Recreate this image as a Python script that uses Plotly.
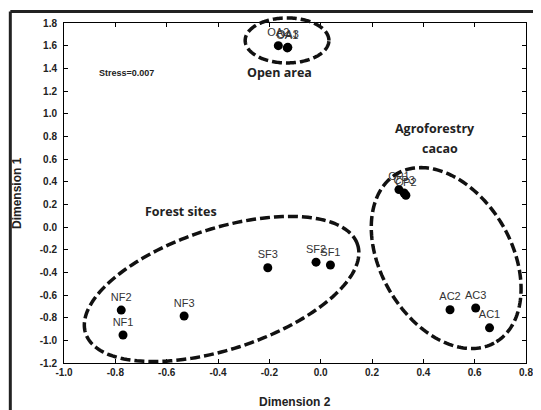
import numpy as np
import plotly.graph_objects as go

# ---- data ----
site_labels = ["NF1", "NF2", "NF3", "SF1", "SF2", "SF3",
               "AC1", "AC2", "AC3", "CP1", "CP3", "CP2",
               "OA2", "OA1", "OA3"]
dim2 = [-0.77, -0.777, -0.532, 0.038, -0.018, -0.206,
        0.658, 0.504, 0.604, 0.305, 0.325, 0.332,
        -0.165, -0.13, -0.128]
dim1 = [-0.953, -0.733, -0.785, -0.335, -0.31, -0.36,
        -0.89, -0.73, -0.715, 0.33, 0.30, 0.28,
        1.60, 1.58, 1.585]
xticks = [-1.0, -0.8, -0.6, -0.4, -0.2, 0.0, 0.2, 0.4, 0.6, 0.8]
yticks = [-1.2, -1.0, -0.8, -0.6, -0.4, -0.2, 0.0, 0.2, 0.4, 0.6,
          0.8, 1.0, 1.2, 1.4, 1.6, 1.8]
group_names = ["Forest sites", "Agroforestry", "cacao", "Open area"]
stress_text = "Stress=0.007"

XR = [-1.0, 0.8]
YR = [-1.2, 1.8]
# page body has an 8px margin: figure placed at (8, 8)
OFF = 8
W, H = 541 - OFF, 410 - OFF
ML, MR, MT, MB = 64 - OFF, 8, 23 - OFF, 47
PW, PH = W - ML - MR, H - MT - MB

def ellipse_path(cx, cy, a, b, ang):
    cxp = (cx - XR[0]) / (XR[1] - XR[0])
    cyp = (cy - YR[0]) / (YR[1] - YR[0])
    t = np.linspace(0, 2 * np.pi, 200)
    p = np.deg2rad(ang)
    X = cxp + (a * np.cos(p) * np.cos(t) - b * np.sin(p) * np.sin(t)) / PW
    Y = cyp + (a * np.sin(p) * np.cos(t) + b * np.cos(p) * np.sin(t)) / PH
    s = "M %.5f,%.5f " % (X[0], Y[0])
    s += " ".join("L %.5f,%.5f" % (x, y) for x, y in zip(X[1:], Y[1:]))
    return s + " Z"

fig = go.Figure()
fig.add_trace(go.Scatter(
    x=dim2, y=dim1, mode="markers+text", text=site_labels,
    textposition="top center",
    textfont=dict(family="Liberation Sans, Arial", size=11, color="#333333"),
    marker=dict(size=9, color="black"),
    cliponaxis=False, showlegend=False))

dash = dict(color="#111111", width=3.5, dash="10px,4px")
fx = (9.5 - 64) / PW          # outer frame left edge (paper)
fy = 1 + (23 - 11.5) / PH     # outer frame top edge (paper)
shapes = [
    dict(type="path", xref="paper", yref="paper",
         path=ellipse_path(-0.386, -0.547, 145, 60.5, 17.7), line=dash),
    dict(type="path", xref="paper", yref="paper",
         path=ellipse_path(0.489, -0.274, 98, 66, -58.6), line=dash),
    dict(type="path", xref="paper", yref="paper",
         path=ellipse_path(-0.131, 1.646, 42.5, 22.5, 0), line=dash),
    dict(type="line", xref="paper", yref="paper",
         x0=fx, x1=1.1, y0=fy, y1=fy,
         line=dict(color="#222222", width=3)),
    dict(type="line", xref="paper", yref="paper",
         x0=fx, x1=fx, y0=fy, y1=-0.3,
         line=dict(color="#222222", width=3)),
]

lab_font = dict(family="Open Sans, Noto Sans", size=12.5, color="#222222")
annotations = [
    dict(x=-0.543, y=0.141, text="<b>%s</b>" % group_names[0], showarrow=False,
         font=lab_font),
    dict(x=0.447, y=0.873, text="<b>%s</b>" % group_names[1], showarrow=False,
         font=lab_font),
    dict(x=0.466, y=0.692, text="<b>%s</b>" % group_names[2], showarrow=False,
         font=lab_font),
    dict(x=-0.16, y=1.36, text="<b>%s</b>" % group_names[3], showarrow=False,
         font=lab_font),
    dict(x=-0.758, y=1.36, text="<b>%s</b>" % stress_text, showarrow=False,
         font=dict(family="Liberation Sans, Arial", size=9, color="#222222")),
    dict(x=0.5, y=0, xref="paper", yref="paper", yshift=-39, showarrow=False,
         text="<b>Dimension 2</b>", yanchor="middle",
         font=dict(family="Liberation Sans, Arial", size=12, color="#222222")),
    dict(x=0, y=0.5, xref="paper", yref="paper", xshift=-47, showarrow=False,
         text="<b>Dimension 1</b>", textangle=-90, xanchor="center",
         font=dict(family="Liberation Sans, Arial", size=12, color="#222222")),
]

tickfont = dict(family="Liberation Sans, Arial", size=10, color="#222222")
fig.update_layout(
    width=W, height=H,
    margin=dict(l=ML, r=MR, t=MT, b=MB),
    paper_bgcolor="white", plot_bgcolor="white",
    shapes=shapes, annotations=annotations,
    xaxis=dict(range=XR, tickvals=xticks,
               ticktext=["<b>%.1f</b>" % v for v in xticks],
               showgrid=False, zeroline=False, showline=True, linecolor="black",
               linewidth=1, mirror="ticks", ticks="inside", ticklen=4,
               tickcolor="black", tickfont=tickfont),
    yaxis=dict(range=YR, tickvals=yticks,
               ticktext=["<b>%.1f</b>" % v for v in yticks],
               showgrid=False, zeroline=False, showline=True, linecolor="black",
               linewidth=1, mirror="ticks", ticks="inside", ticklen=4,
               tickcolor="black", tickfont=tickfont, ticklabelstandoff=4),
)
fig.write_html("out.html")
